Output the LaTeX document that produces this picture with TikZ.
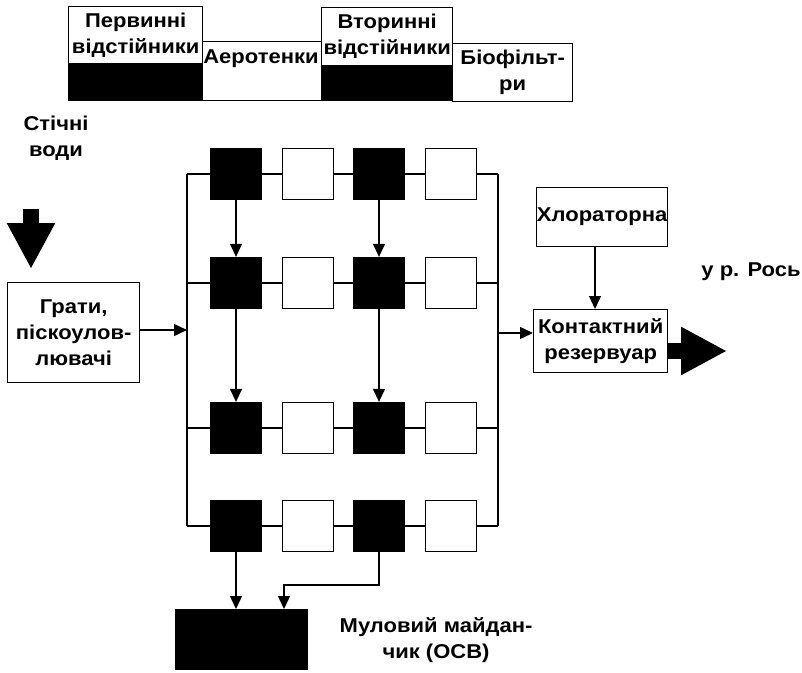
\documentclass[tikz,border=0pt]{standalone}
\usepackage{fontspec}
\setmainfont{Liberation Sans}[FakeStretch=1.1]
\usetikzlibrary{arrows.meta, positioning}

\begin{document}
\begin{tikzpicture}[x=1pt, y=-1pt,
    lbl/.style={font=\bfseries\fontsize{20}{26}\selectfont, align=center, inner sep=0pt},
    unit/.style={rectangle, draw, line width=1.3pt, lbl, anchor=north west},
    wbox/.style={rectangle, draw, line width=1.3pt, fill=white, minimum width=51pt, minimum height=51pt, inner sep=0pt},
    bbox/.style={wbox, fill=black},
    pipe/.style={line width=1.3pt},
    arrow/.style={-{Triangle[length=13pt, width=12pt]}, line width=1.3pt},
    bigarrow/.style={-{Triangle[length=46pt, width=45pt]}, line width=16pt}
]
\useasboundingbox (0,0) rectangle (802,672);

% Legend
\node[unit, minimum width=134pt, minimum height=57pt] (perv) at (68,6) {Первинні\\відстійники};
\node[unit, fill=black, minimum width=134pt, minimum height=37pt] (pervb) at (68,63) {};
\node[unit, minimum width=119pt, minimum height=59pt] (aero) at (202,41) {};
\node[lbl] (aerot) at (261,59) {Аеротенки};
\node[unit, minimum width=131pt, minimum height=58pt] (vtor) at (321,7) {Вторинні\\відстійники};
\node[unit, fill=black, minimum width=131pt, minimum height=35pt] (vtorb) at (321,65) {};
\node[unit, minimum width=120pt, minimum height=58pt] (biof) at (452,43) {Біофільт-\\ри};

% Inlet
\node[lbl] (stichni) at (56,138) {Стічні\\води};
\node[unit, minimum width=132pt, minimum height=100pt] (hraty) at (7,282) {Грати,\\піскоулов-\\лювачі};
\coordinate (inlet) at (31,209);
\draw[bigarrow] (inlet) -- (31,269);

% Treatment lines
\coordinate (L1) at (187,174); \coordinate (R1) at (498,174);
\coordinate (L2) at (187,283); \coordinate (R2) at (498,283);
\coordinate (L3) at (187,428); \coordinate (R3) at (498,428);
\coordinate (L4) at (187,526); \coordinate (R4) at (498,526);

\node[bbox] (b11) at (236,174) {}; \node[wbox] (w11) at (308,174) {};
\node[bbox] (b12) at (379,174) {}; \node[wbox] (w12) at (451,174) {};
\node[bbox] (b21) at (236,283) {}; \node[wbox] (w21) at (308,283) {};
\node[bbox] (b22) at (379,283) {}; \node[wbox] (w22) at (451,283) {};
\node[bbox] (b31) at (236,428) {}; \node[wbox] (w31) at (308,428) {};
\node[bbox] (b32) at (379,428) {}; \node[wbox] (w32) at (451,428) {};
\node[bbox] (b41) at (236,526) {}; \node[wbox] (w41) at (308,526) {};
\node[bbox] (b42) at (379,526) {}; \node[wbox] (w42) at (451,526) {};

\draw[pipe] (L1) -- (b11) -- (w11) -- (b12) -- (w12) -- (R1);
\draw[pipe] (L2) -- (b21) -- (w21) -- (b22) -- (w22) -- (R2);
\draw[pipe] (L3) -- (b31) -- (w31) -- (b32) -- (w32) -- (R3);
\draw[pipe] (L4) -- (b41) -- (w41) -- (b42) -- (w42) -- (R4);
\draw[pipe] (L1) -- (L4);
\draw[pipe] (R1) -- (R4);

\coordinate (feed) at (187,330);
\draw[arrow] (hraty.east |- feed) -- (feed);

\draw[arrow] (b11) -- (b21);
\draw[arrow] (b21) -- (b31);
\draw[arrow] (b12) -- (b22);
\draw[arrow] (b22) -- (b32);

% Outlet
\node[unit, minimum width=131pt, minimum height=59pt] (chlor) at (536,187) {Хлораторна};
\node[unit, minimum width=134pt, minimum height=63pt] (kontakt) at (533,309) {Контактний\\резервуар};
\coordinate (out) at (498,333);
\draw[arrow] (out) -- (kontakt.west |- out);
\draw[arrow] (chlor.south -| 595,0) -- (kontakt.north -| 595,0);
\coordinate (ros) at (727,351);
\draw[bigarrow] (kontakt.east |- ros) -- (ros);
\node[lbl] (rosl) at (751,272) {у р. Рось};

% Sludge
\node[rectangle, fill=black, minimum width=133pt, minimum height=61pt, anchor=north west] (mul) at (175,609) {};
\coordinate (turn) at (284,585);
\draw[arrow] (b41) -- (b41 |- mul.north);
\draw[arrow] (b42.south) |- (turn) -- (turn |- mul.north);
\node[lbl] (mull) at (436,640) {Муловий майдан-\\чик (ОСВ)};

\end{tikzpicture}
\end{document}
